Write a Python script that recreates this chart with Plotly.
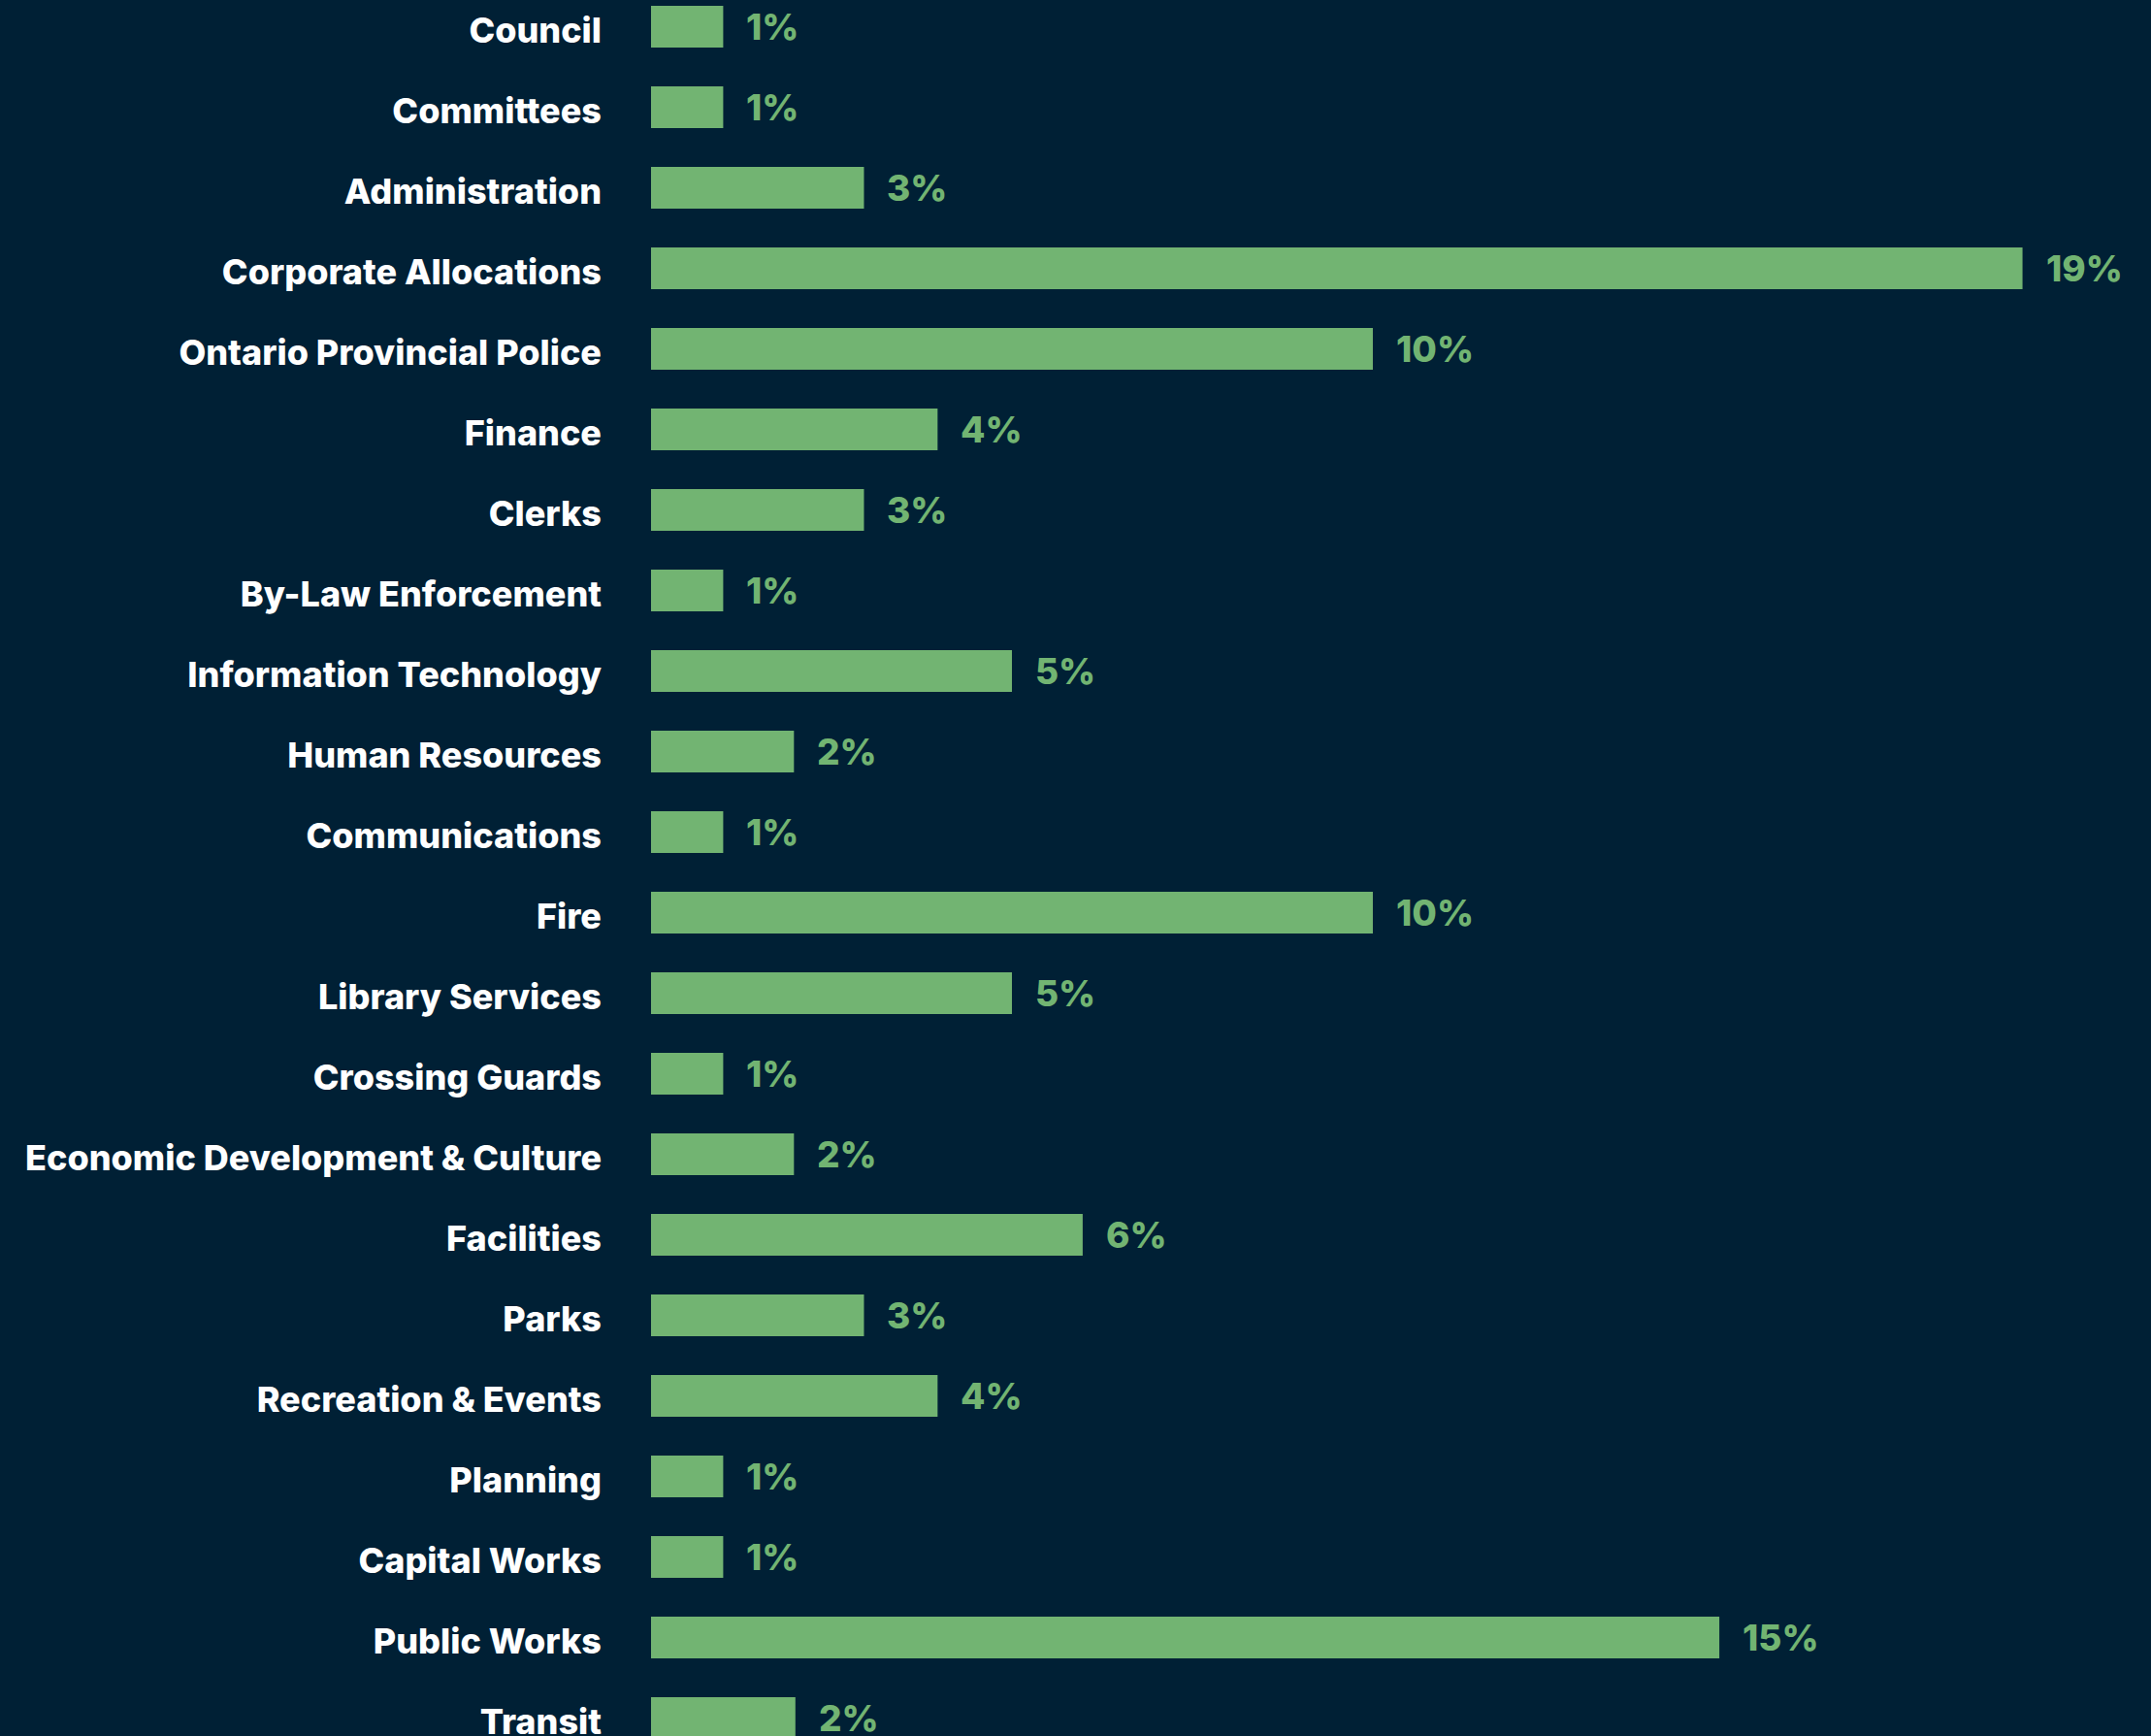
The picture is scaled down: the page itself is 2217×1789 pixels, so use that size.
import plotly.graph_objects as go

departments = [
    "Council",
    "Committees",
    "Administration",
    "Corporate Allocations",
    "Ontario Provincial Police",
    "Finance",
    "Clerks",
    "By-Law Enforcement",
    "Information Technology",
    "Human Resources",
    "Communications",
    "Fire",
    "Library Services",
    "Crossing Guards",
    "Economic Development & Culture",
    "Facilities",
    "Parks",
    "Recreation & Events",
    "Planning",
    "Capital Works",
    "Public Works",
    "Transit",
]
shares = [1, 1, 2.95, 19, 10, 3.97, 2.95, 1, 5, 1.98, 1, 10, 5, 1, 1.98, 5.98, 2.95, 3.97, 1, 1, 14.8, 2]
share_labels = ["1%", "1%", "3%", "19%", "10%", "4%", "3%", "1%", "5%", "2%", "1%",
                "10%", "5%", "1%", "2%", "6%", "3%", "4%", "1%", "1%", "15%", "2%"]

BG = "#002035"
GREEN = "#72b472"
FONT = "Inter"

fig = go.Figure(
    go.Bar(
        x=shares,
        y=departments,
        orientation="h",
        width=0.52,
        marker=dict(color=GREEN, line=dict(width=0)),
        hoverinfo="skip",
    )
)

# percentage labels to the right of each bar
for dept, val, lab in zip(departments, shares, share_labels):
    fig.add_annotation(
        x=val,
        y=dept,
        text=lab,
        showarrow=False,
        xanchor="left",
        yanchor="middle",
        xshift=22,
        font=dict(family=FONT, size=37, color=GREEN, weight=800),
    )

fig.update_layout(
    width=2217,
    height=1789,
    margin=dict(l=671, r=0, t=0, b=0),
    paper_bgcolor=BG,
    plot_bgcolor=BG,
    showlegend=False,
    bargap=0.48,
)
fig.update_xaxes(visible=False, range=[0, 20.78], fixedrange=True, automargin=False)
fig.update_yaxes(
    type="category",
    categoryorder="array",
    categoryarray=departments,
    range=[21.223, -0.331],
    automargin=False,
    showgrid=False,
    zeroline=False,
    showline=False,
    ticks="",
    ticklabelstandoff=50,
    ticklabelshift=-4,
    tickfont=dict(family=FONT, size=36, color="#ffffff", weight=800),
    fixedrange=True,
)

# drop the default page margin so the chart sits at the window corner
fig.write_html(
    "out.html",
    config={"displayModeBar": False},
    post_script="document.body.style.margin='0';document.body.style.background='#002035';",
)
